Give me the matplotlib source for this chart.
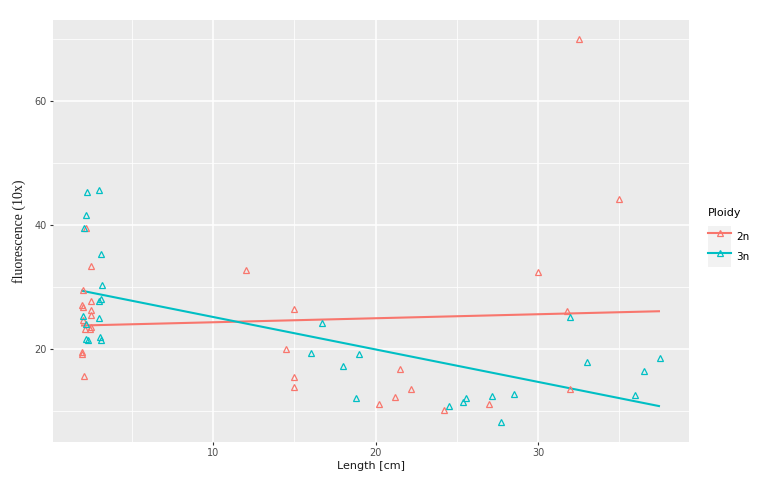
import numpy as np
import matplotlib.pyplot as plt
from matplotlib.lines import Line2D
from matplotlib.patches import Rectangle
from matplotlib.legend_handler import HandlerTuple

# values
len_2n = [32.5, 35.0, 30.0, 31.8, 32.0, 24.2, 27.0, 15.0, 14.5, 15.0, 15.0,
          21.5, 22.2, 21.2, 20.2, 12.0,
          2.17, 2.47, 2.0, 2.5, 1.94, 2.0, 2.47, 2.47, 2.0, 2.1, 2.4, 2.5,
          1.95, 1.93, 2.06]
fl_2n = [70.0, 44.2, 32.5, 26.1, 13.5, 10.2, 11.2, 26.5, 20.0, 15.5, 13.8,
         16.7, 13.5, 12.3, 11.2, 32.8,
         39.6, 33.4, 29.6, 27.8, 27.1, 26.8, 26.3, 25.5, 24.7, 23.2, 23.3, 23.5,
         19.6, 19.2, 15.7]

len_3n = [32.0, 33.0, 37.5, 36.5, 36.0, 24.5, 25.4, 25.6, 27.2, 28.5, 27.7,
          16.7, 16.0, 19.0, 18.0, 18.8,
          2.26, 2.97, 2.17, 2.06, 3.07, 3.17, 3.0, 3.07, 1.96, 2.98, 2.17,
          2.2, 2.27, 3.03, 3.07]
fl_3n = [25.2, 17.9, 18.6, 16.5, 12.6, 10.8, 11.5, 12.1, 12.5, 12.7, 8.3,
         24.2, 19.4, 19.2, 17.3, 12.1,
         45.4, 45.6, 41.7, 39.6, 35.3, 30.3, 27.7, 28.0, 25.3, 25.0, 24.1,
         21.6, 21.5, 22.0, 21.5]

# fitted lines (end points)
fit_len = [1.93, 37.45]
fit_2n = [23.8, 26.1]
fit_3n = [29.4, 10.8]

col_2n = "#F8766D"
col_3n = "#00BFC4"

fig = plt.figure(figsize=(7.66, 4.86), dpi=100)
ax = fig.add_axes([53 / 766, 44 / 486, 636 / 766, 422 / 486])
ax.set_facecolor("#EBEBEB")
for s in ax.spines.values():
    s.set_visible(False)

ax.set_xlim(0.14, 39.3)
ax.set_ylim(5.0, 73.1)
ax.set_xticks([10, 20, 30])
ax.set_xticks([5, 15, 25, 35], minor=True)
ax.set_yticks([20, 40, 60])
ax.set_yticks([10, 30, 50, 70], minor=True)
ax.grid(which="major", color="white", lw=1.1)
ax.grid(which="minor", color="white", lw=0.55)
ax.set_axisbelow(True)
ax.tick_params(which="major", length=2.5, width=0.8, color="#333333",
               labelcolor="#4D4D4D", labelsize=7, pad=2)
ax.tick_params(which="minor", length=0)

ax.plot(fit_len, fit_2n, color=col_2n, lw=1.5, zorder=3)
ax.plot(fit_len, fit_3n, color=col_3n, lw=1.5, zorder=3)
ax.plot(len_2n, fl_2n, "^", ms=5, mfc="none", mec=col_2n, mew=0.9, zorder=4)
ax.plot(len_3n, fl_3n, "^", ms=5, mfc="none", mec=col_3n, mew=0.9, zorder=4)

ax.set_xlabel("Length [cm]", fontsize=8, color="#1A1A1A", labelpad=2)
ax.set_ylabel("fluorescence (10x)", fontsize=10, family="Liberation Serif",
              color="#1A1A1A", labelpad=6)

handles = []
for c in [col_2n, col_3n]:
    bg = Rectangle((0, 0), 1, 1, facecolor="#F2F2F2", edgecolor="none")
    ln = Line2D([], [], color=c, lw=1.5, marker="^", ms=5, mfc="none",
                mec=c, mew=0.9)
    handles.append((bg, ln))
leg = fig.legend(handles, ["2n", "3n"], title="Ploidy", loc="upper left",
                 bbox_to_anchor=(704 / 766, 1 - 204 / 486), frameon=False,
                 fontsize=7.5, title_fontsize=8, handlelength=2.2,
                 handleheight=2.6, labelspacing=0, handletextpad=0.5,
                 borderaxespad=0,
                 handler_map={tuple: HandlerTuple(ndivide=1, pad=0)})
leg._legend_box.align = "left"
leg._legend_box.sep = 6

fig.savefig("out.png", dpi=100)
